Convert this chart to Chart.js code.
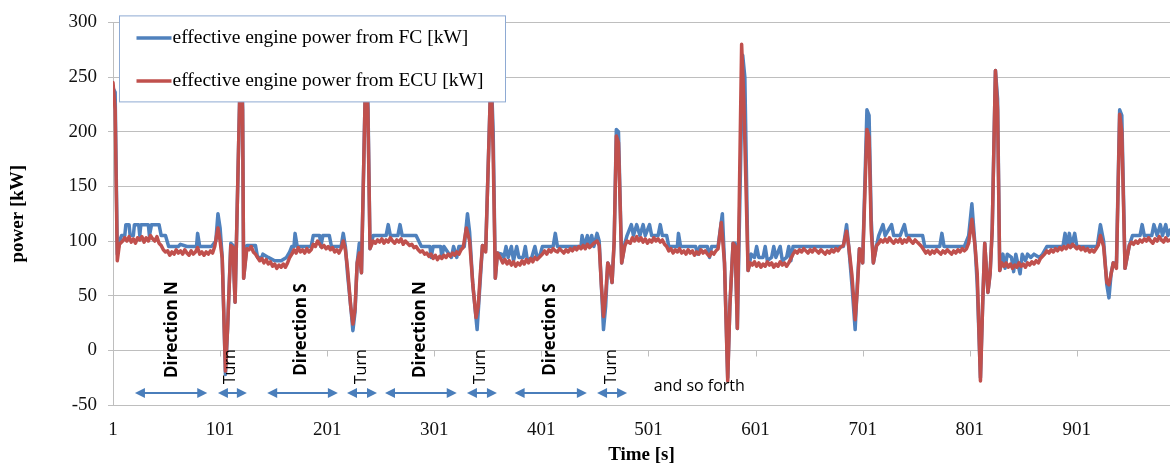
<!DOCTYPE html>
<html>
<head>
<meta charset="utf-8">
<script src="https://cdn.jsdelivr.net/npm/chart.js@4.4.1/dist/chart.umd.min.js"></script>
<style>
  html, body { margin: 0; padding: 0; background: #fff; }
  #wrap { width: 1171px; height: 466px; }
</style>
</head>
<body>
<div id="wrap"><canvas id="powerChart" width="1171" height="466"></canvas></div>
<script>
// time axis ticks (Excel category labels every 100 s)
const xTicks = [1, 101, 201, 301, 401, 501, 601, 701, 801, 901];

// effective engine power from FC [kW] (blue)
const fcTime = [
  1, 3, 5, 7, 9, 12, 13, 16, 17, 20, 21, 25, 26, 27, 34, 35, 37, 44, 46, 50, 53, 62, 64, 70, 79, 80, 82, 93, 97, 99, 101, 103, 106, 108, 111, 113, 115, 120, 122, 123, 126,
  134, 136, 140, 141, 146, 152, 158, 163, 166, 168, 170, 171, 173, 186, 188, 194, 195, 197, 203, 205, 214, 216, 218, 220, 223, 225, 227, 229, 231, 233, 237, 239, 241, 244,
  256, 258, 260, 267, 269, 271, 284, 289, 297, 298, 300, 307, 308, 310, 317, 319, 322, 324, 329, 332, 334, 337, 341, 343, 346, 349, 354, 356, 358, 360, 364,
  366, 368, 370, 373, 375, 378, 380, 384, 386, 388, 392, 395, 397, 400, 402, 412, 414, 416, 438, 439, 441, 444, 446, 448, 450, 453, 455, 457, 459, 461, 463, 465, 467, 469, 471, 473, 476, 479, 481, 485, 487, 490,
  493, 496, 498, 502, 504, 510, 512, 514, 518, 520, 528, 529, 531, 545, 547, 549, 556, 558, 560, 566, 570, 572, 575, 577, 580, 582, 584, 589, 591, 594, 597,
  600, 602, 604, 608, 610, 612, 616, 618, 620, 624, 626, 630, 632, 634, 636, 683, 686, 688, 691, 694, 696, 698, 701, 705, 707, 709, 711, 714, 716, 720, 722,
  728, 730, 736, 740, 742, 757, 759, 773, 775, 777, 796, 800, 803, 806, 808, 811, 813, 815, 818, 820, 822, 825, 827, 829,
  832, 834, 836, 840, 842, 844, 848, 850, 853, 855, 858, 861, 866, 869, 873, 888, 890, 892, 894, 896, 899, 901, 920, 923, 926, 929, 931, 933, 935, 938, 941, 943, 946, 950, 953, 960, 962, 964, 971, 973, 976, 979, 981, 984, 986, 988
];
const fcPower = [
  240, 236, 88, 100, 105, 105, 115, 115, 105, 105, 115, 115, 105, 115, 115, 105, 115, 115, 105, 105, 95, 95, 97, 95, 95, 107, 95, 95, 100, 125, 112, 85, -22, 20, 98, 96, 44, 262, 230, 66, 96,
  96, 85, 85, 88, 85, 82, 82, 85, 90, 95, 95, 107, 95, 95, 105, 105, 95, 105, 105, 95, 95, 107, 95, 70, 40, 18, 35, 80, 98, 71, 258, 230, 93, 105,
  105, 115, 105, 105, 115, 105, 105, 95, 95, 85, 95, 95, 85, 95, 85, 95, 85, 95, 95, 125, 108, 60, 19, 50, 96, 92, 256, 200, 66, 89, 88,
  85, 95, 85, 95, 82, 95, 85, 85, 95, 82, 85, 95, 85, 88, 95, 95, 107, 95, 95, 105, 95, 105, 95, 105, 95, 107, 100, 60, 19, 40, 80, 75, 62, 100, 202, 200, 80, 98, 105, 115, 105, 115,
  105, 115, 105, 115, 105, 105, 115, 105, 105, 95, 95, 107, 95, 95, 88, 95, 95, 85, 95, 95, 125, 80, -25, 40, 98, 98, 20, 270, 250, 73, 88,
  85, 95, 85, 85, 95, 82, 85, 95, 85, 95, 82, 85, 95, 82, 95, 95, 115, 95, 60, 19, 60, 93, 80, 220, 215, 120, 80, 96, 105, 115, 105,
  115, 105, 105, 115, 105, 105, 95, 95, 107, 95, 95, 105, 134, 95, 60, -25, 40, 98, 53, 70, 111, 256, 230, 73,
  88, 75, 88, 85, 72, 88, 70, 88, 82, 88, 85, 88, 85, 88, 95, 95, 107, 95, 107, 95, 107, 95, 95, 115, 100, 60, 48, 70, 80, 80, 220, 215, 75, 96, 105, 105, 115, 105, 105, 115, 105, 115, 105, 115, 105, 110
];

// effective engine power from ECU [kW] (red)
const ecuTime = [
  1, 3, 5, 7, 10, 12, 14, 16, 18, 20, 22, 24, 26, 28, 30, 32, 34, 36, 38, 40, 42, 44, 46, 48, 50, 52, 54, 56, 58, 60, 62, 64, 66, 68, 70, 72, 74, 76, 78, 80, 82, 84, 86, 88, 90, 92, 94, 96, 99, 101, 103, 106, 108, 111, 113, 115, 120, 122, 123, 126,
  128, 130, 132, 134, 136, 138, 140, 142, 144, 146, 148, 150, 152, 154, 156, 158, 160, 162, 164, 166, 168, 170, 172, 174, 176, 178, 180, 182, 184, 186, 188, 190, 192, 194, 196, 198, 200, 202, 204, 206, 208, 210, 212, 214, 216, 218, 220, 223, 225, 227, 229, 231, 233, 237, 239, 241, 244,
  246, 248, 250, 252, 254, 256, 258, 260, 262, 264, 266, 268, 270, 272, 274, 276, 278, 280, 282, 284, 286, 288, 290, 292, 294, 296, 298, 300, 302, 304, 306, 308, 310, 312, 314, 316, 318, 320, 322, 324, 326, 328, 331, 334, 337, 340, 342, 344, 346, 349, 354, 356, 358, 360, 363,
  365, 367, 369, 371, 373, 375, 377, 379, 381, 383, 385, 387, 389, 391, 393, 395, 397, 400, 402, 404, 406, 408, 410, 412, 414, 416, 418, 420, 422, 424, 426, 428, 430, 432, 434, 436, 438, 440, 442, 444, 446, 448, 450, 453, 455, 457, 459, 461, 463, 465, 467, 469, 471, 473, 476, 479, 481, 484, 486, 488, 490,
  492, 494, 496, 498, 500, 502, 504, 506, 508, 510, 512, 514, 516, 518, 520, 522, 524, 526, 528, 530, 532, 534, 536, 538, 540, 542, 544, 546, 548, 550, 552, 554, 556, 558, 560, 562, 564, 566, 569, 572, 575, 577, 580, 582, 584, 588, 590, 594, 596,
  598, 600, 602, 604, 606, 608, 610, 612, 614, 616, 618, 620, 622, 624, 626, 628, 630, 632, 634, 636, 638, 640, 642, 644, 646, 648, 650, 652, 654, 656, 658, 660, 662, 664, 666, 668, 670, 672, 674, 676, 678, 680, 683, 686, 688, 691, 694, 696, 698, 701, 705, 707, 709, 711, 714, 716, 718, 720,
  722, 724, 726, 728, 730, 732, 734, 736, 738, 740, 742, 744, 746, 748, 750, 752, 754, 756, 758, 760, 762, 764, 766, 768, 770, 772, 774, 776, 778, 780, 782, 784, 786, 788, 790, 792, 794, 796, 798, 800, 803, 806, 808, 811, 813, 815, 818, 820, 822, 825, 827, 829,
  831, 833, 835, 837, 839, 841, 843, 845, 847, 849, 851, 853, 855, 857, 859, 861, 863, 865, 867, 869, 871, 873, 875, 877, 879, 881, 883, 885, 887, 889, 891, 893, 895, 897, 899, 901, 903, 905, 907, 909, 911, 913, 915, 917, 919, 921, 923, 926, 929, 931, 933, 935, 938, 941, 943, 946, 950, 952, 954, 956, 958, 960, 962, 964, 966, 968, 970, 972, 974, 976, 978, 980, 982, 984, 986, 988
];
const ecuPower = [
  245, 220, 82, 97, 100, 103, 100, 104, 99, 102, 98, 103, 101, 104, 99, 103, 100, 105, 102, 100, 104, 98, 96, 92, 90, 91, 87, 90, 88, 92, 89, 91, 88, 92, 89, 87, 91, 88, 90, 94, 88, 90, 87, 90, 88, 91, 89, 95, 112, 100, 84, -19, 20, 96, 94, 44, 262, 220, 66, 93,
  92, 95, 90, 88, 85, 82, 84, 80, 83, 79, 81, 77, 79, 75, 78, 76, 79, 76, 80, 85, 88, 92, 89, 94, 90, 92, 89, 93, 90, 92, 97, 95, 100, 97, 94, 96, 93, 95, 92, 94, 90, 92, 89, 93, 100, 92, 75, 40, 24, 38, 80, 89, 71, 258, 220, 93, 100,
  98, 101, 99, 102, 98, 101, 99, 103, 100, 98, 101, 99, 102, 97, 100, 98, 96, 97, 94, 95, 92, 90, 91, 88, 89, 86, 88, 84, 87, 83, 86, 84, 87, 85, 88, 86, 89, 87, 90, 88, 92, 94, 112, 100, 60, 30, 40, 70, 96, 90, 256, 180, 66, 89, 84,
  80, 83, 79, 82, 78, 81, 77, 80, 78, 82, 79, 83, 80, 84, 81, 85, 83, 86, 88, 91, 88, 92, 90, 93, 91, 90, 93, 91, 89, 92, 90, 93, 91, 94, 92, 95, 93, 96, 93, 97, 94, 96, 98, 100, 96, 60, 31, 50, 80, 75, 62, 100, 196, 190, 80, 96, 100, 98, 103, 100, 104,
  100, 103, 99, 102, 98, 101, 99, 103, 100, 102, 99, 101, 97, 95, 91, 93, 89, 92, 90, 93, 89, 91, 88, 92, 89, 91, 87, 90, 88, 92, 89, 91, 88, 86, 90, 88, 91, 93, 117, 80, -28, 40, 98, 95, 20, 280, 230, 73, 80,
  78, 81, 77, 80, 76, 79, 77, 81, 78, 80, 76, 79, 77, 81, 78, 80, 77, 80, 84, 88, 91, 89, 92, 90, 93, 91, 89, 92, 90, 93, 91, 89, 92, 90, 88, 91, 89, 92, 90, 93, 91, 94, 96, 109, 95, 69, 28, 55, 93, 80, 202, 195, 110, 80, 96, 98, 101, 99,
  102, 99, 103, 100, 98, 101, 99, 102, 98, 101, 99, 103, 100, 98, 101, 99, 97, 95, 92, 89, 91, 88, 91, 89, 92, 90, 88, 91, 89, 92, 90, 88, 91, 89, 92, 90, 93, 91, 93, 98, 120, 95, 70, -28, 40, 98, 53, 70, 111, 256, 220, 73,
  80, 77, 80, 76, 79, 75, 78, 76, 80, 77, 79, 76, 80, 78, 81, 79, 82, 80, 84, 86, 88, 91, 89, 92, 90, 93, 91, 94, 92, 95, 93, 96, 94, 97, 95, 93, 95, 92, 94, 91, 93, 90, 92, 90, 93, 96, 105, 95, 62, 60, 70, 80, 75, 216, 200, 75, 96, 99, 97, 100, 98, 101, 99, 102, 100, 103, 100, 98, 102, 100, 104, 101, 99, 103, 100, 101
];

// notes written on the chart
const dirLabels = ['Direction N', 'Direction S', 'Direction N', 'Direction S'];
const dirTimes = [56, 177, 288, 409];
const dirLevel = 19;
const turnTimes = [111, 233, 344.5, 466];
const turnLevel = -15;
const arrowFrom = [21.5, 99, 145, 219.5, 255, 331.5, 376, 453];
const arrowTo = [89, 126, 211, 247.5, 322, 359.5, 443.5, 481];
const arrowLevel = -39;
const moreText = 'and so forth';
const moreTime = 548.5;
const moreLevel = -33;

const BLUE = '#4f81bd';
const RED = '#c0504d';
const GRID = '#bebebe';
const serif = '"Liberation Serif", "Times New Roman", serif';

const toPoints = (ts, vs) => ts.map((t, i) => ({ x: t, y: vs[i] }));

// text + arrows drawn on top of the lines
const notesPlugin = {
  id: 'notes',
  afterDatasetsDraw(chart) {
    const { ctx, scales: { x, y } } = chart;
    ctx.save();
    ctx.fillStyle = '#000';
    ctx.textAlign = 'center';
    ctx.textBaseline = 'middle';

    ctx.font = 'bold 17px "Open Sans"';
    dirTimes.forEach((t, i) => {
      ctx.save();
      ctx.translate(x.getPixelForValue(t), y.getPixelForValue(dirLevel));
      ctx.rotate(-Math.PI / 2);
      ctx.fillText(dirLabels[i], 0, 0);
      ctx.restore();
    });

    ctx.font = '16px "Open Sans"';
    turnTimes.forEach(t => {
      ctx.save();
      ctx.translate(x.getPixelForValue(t), y.getPixelForValue(turnLevel));
      ctx.rotate(-Math.PI / 2);
      ctx.fillText('Turn', 0, 0);
      ctx.restore();
    });

    ctx.fillText(moreText, x.getPixelForValue(moreTime), y.getPixelForValue(moreLevel));

    // double headed arrows
    ctx.strokeStyle = '#4a7ebb';
    ctx.fillStyle = '#4a7ebb';
    ctx.lineWidth = 2;
    const ay = y.getPixelForValue(arrowLevel);
    arrowFrom.forEach((t0, i) => {
      const a = x.getPixelForValue(t0);
      const b = x.getPixelForValue(arrowTo[i]);
      ctx.beginPath();
      ctx.moveTo(a + 6, ay);
      ctx.lineTo(b - 6, ay);
      ctx.stroke();
      ctx.beginPath();
      ctx.moveTo(a, ay);
      ctx.lineTo(a + 10, ay - 5);
      ctx.lineTo(a + 10, ay + 5);
      ctx.closePath();
      ctx.fill();
      ctx.beginPath();
      ctx.moveTo(b, ay);
      ctx.lineTo(b - 10, ay - 5);
      ctx.lineTo(b - 10, ay + 5);
      ctx.closePath();
      ctx.fill();
    });

    // excel puts the category tick marks on the zero line
    ctx.strokeStyle = GRID;
    ctx.lineWidth = 1;
    const y0 = Math.round(y.getPixelForValue(0)) + 0.5;
    xTicks.forEach(v => {
      const px = Math.round(x.getPixelForValue(v)) + 0.5;
      ctx.beginPath();
      ctx.moveTo(px, y0);
      ctx.lineTo(px, y0 + 6);
      ctx.stroke();
    });
    ctx.restore();
  }
};

// legend box sitting inside the plot, over the lines
const boxLegend = {
  id: 'boxLegend',
  afterDatasetsDraw(chart) {
    const { ctx, chartArea } = chart;
    const left = chartArea.left + 6.5;
    const top = chartArea.top - 6.5;
    const w = 386, h = 86;
    ctx.save();
    ctx.fillStyle = '#fff';
    ctx.fillRect(left, top, w, h);
    ctx.strokeStyle = '#8eaad3';
    ctx.lineWidth = 1;
    ctx.strokeRect(left, top, w, h);
    const items = chart.data.datasets.map(d => ({ text: d.label, color: d.borderColor }));
    ctx.font = '19.5px ' + serif;
    ctx.textBaseline = 'middle';
    ctx.textAlign = 'left';
    items.forEach((it, i) => {
      const ly = top + 22 + i * 43;
      ctx.strokeStyle = it.color;
      ctx.lineWidth = 3.5;
      ctx.beginPath();
      ctx.moveTo(left + 17, ly);
      ctx.lineTo(left + 52, ly);
      ctx.stroke();
      ctx.fillStyle = '#000';
      ctx.fillText(it.text, left + 53, ly);
    });
    ctx.restore();
  }
};

new Chart(document.getElementById('powerChart'), {
  type: 'line',
  data: {
    datasets: [{
      label: 'effective engine power from FC [kW]',
      data: toPoints(fcTime, fcPower),
      borderColor: BLUE,
      borderWidth: 3.5,
      order: 1
    }, {
      label: 'effective engine power from ECU [kW]',
      data: toPoints(ecuTime, ecuPower),
      borderColor: RED,
      borderWidth: 3.5,
      order: 0
    }]
  },
  options: {
    responsive: false,
    animation: false,
    layout: { padding: { top: 19, right: 1, bottom: 0, left: 0 } },
    elements: {
      point: { radius: 0 },
      line: { tension: 0, borderJoinStyle: 'round', borderCapStyle: 'round' }
    },
    plugins: {
      legend: { display: false },
      tooltip: { enabled: false }
    },
    scales: {
      x: {
        type: 'linear',
        min: 1,
        max: 988,
        afterBuildTicks: s => { s.ticks = xTicks.map(v => ({ value: v })); },
        afterFit: s => { s.height = 61; },
        grid: { display: false, drawTicks: false },
        border: { display: false },
        ticks: { autoSkip: false, maxRotation: 0, padding: 14, color: '#111', font: { family: serif, size: 19 } },
        title: { display: true, text: 'Time [s]', color: '#000', font: { family: serif, size: 19, weight: 'bold' }, padding: { top: 0, bottom: 0 } }
      },
      y: {
        min: -50,
        max: 300,
        afterFit: s => { s.width = 113; },
        grid: { color: GRID, tickLength: 5 },
        border: { color: GRID },
        ticks: { stepSize: 50, padding: 11, color: '#111', font: { family: serif, size: 19 } },
        title: { display: true, text: 'power [kW]', color: '#000', font: { family: serif, size: 19, weight: 'bold' }, padding: { top: 7, bottom: 0 } }
      }
    }
  },
  plugins: [notesPlugin, boxLegend]
});
</script>
</body>
</html>
